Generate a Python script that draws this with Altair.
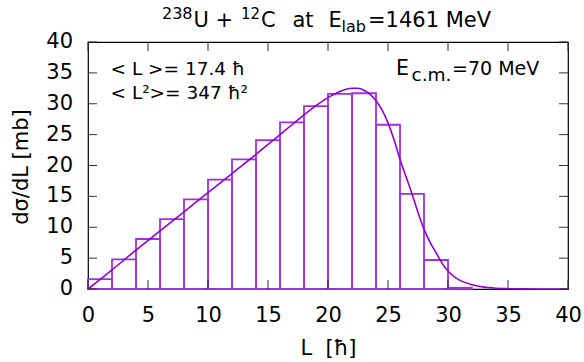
import altair as alt
import pandas as pd

# ---- data ----
bin_left = [0, 2, 4, 6, 8, 10, 12, 14, 16, 18, 20, 22, 24, 26, 28, 30]
bin_right = [2, 4, 6, 8, 10, 12, 14, 16, 18, 20, 22, 24, 26, 28, 30, 32]
bin_height = [1.6, 4.8, 8.1, 11.3, 14.5, 17.7, 21.0, 24.1, 27.0, 29.6,
              31.6, 31.7, 26.6, 15.4, 4.7, 0.2]

curve_L = [0, 2, 4, 6, 8, 10, 12, 14, 16, 17, 18, 19, 20, 21, 22, 22.5, 23,
           24, 24.5, 25, 25.5, 26, 26.5, 27, 27.5, 28, 28.5, 29, 29.5, 30,
           30.5, 31, 32, 33, 34, 35, 36, 38, 40]
curve_sig = [0, 3.1, 6.3, 9.4, 12.5, 15.6, 18.7, 21.8, 25.0, 26.6, 28.2, 29.7,
             31.0, 32.0, 32.5, 32.5, 32.2, 30.5, 29.0, 26.9, 24.2, 21.0, 18.2,
             15.4, 12.4, 9.7, 7.6, 5.9, 4.2, 2.9, 2.0, 1.4, 0.7, 0.3, 0.12,
             0.05, 0.02, 0.0, 0.0]

x_ticks = [0, 5, 10, 15, 20, 25, 30, 35, 40]
y_ticks = [0, 5, 10, 15, 20, 25, 30, 35, 40]

W, H = 480, 247
FONT = "DejaVu Sans"
PURPLE = "#9400D3"
BARC = "#A030E0"

bars = pd.DataFrame({"L0": bin_left, "L1": bin_right, "h": bin_height})
curve = pd.DataFrame({"L": curve_L, "s": curve_sig})
xt = pd.DataFrame({"v": x_ticks})
yt = pd.DataFrame({"v": y_ticks, "lab": [str(v) for v in y_ticks]})

xscale = alt.Scale(domain=[0, 40], nice=False, zero=False)
yscale = alt.Scale(domain=[0, 40], nice=False, zero=False)

xaxis = alt.Axis(values=x_ticks, ticks=False, tickSize=0, domain=False, grid=False,
                 labelFont=FONT, labelFontSize=21, labelColor="black",
                 labelPadding=15, labelFlush=False, labelOverlap=False,
                 title="L\u00a0\u00a0[ħ]", titleFont=FONT, titleFontSize=21,
                 titleFontWeight="normal", titleColor="black", titlePadding=12)

bar_layer = alt.Chart(bars).mark_rect(fill="transparent", stroke=BARC, strokeWidth=1.8).encode(
    x=alt.X("L0:Q", scale=xscale, axis=xaxis),
    x2="L1:Q",
    y=alt.Y("h:Q", scale=yscale, axis=None),
    y2=alt.datum(0),
)

line_layer = alt.Chart(curve).mark_line(color=PURPLE, strokeWidth=1.6, interpolate="monotone").encode(
    x=alt.X("L:Q", scale=xscale),
    y=alt.Y("s:Q", scale=yscale, axis=None),
)

TL = 9
tick_col = "#333333"
xb = alt.Chart(xt).mark_rule(color=tick_col, strokeWidth=1).encode(
    x=alt.X("v:Q", scale=xscale), y=alt.value(H), y2=alt.value(H - TL))
xtop = alt.Chart(xt).mark_rule(color=tick_col, strokeWidth=1).encode(
    x=alt.X("v:Q", scale=xscale), y=alt.value(0), y2=alt.value(TL))
yl = alt.Chart(yt).mark_rule(color=tick_col, strokeWidth=1).encode(
    y=alt.Y("v:Q", scale=yscale, axis=None), x=alt.value(0), x2=alt.value(TL))
yr = alt.Chart(yt).mark_rule(color=tick_col, strokeWidth=1).encode(
    y=alt.Y("v:Q", scale=yscale, axis=None), x=alt.value(W), x2=alt.value(W - TL))

# y tick labels (drawn as text so that every label shows)
ylabels = alt.Chart(yt).mark_text(font=FONT, fontSize=21, align="right",
                                  baseline="middle", color="black").encode(
    y=alt.Y("v:Q", scale=yscale, axis=None), x=alt.value(-15), text="lab:N")

OX, OY = 88, 42


def txt(s, x_abs, y_abs, size, angle=0, align="left", baseline="alphabetic"):
    return alt.Chart(pd.DataFrame({"t": [s]})).mark_text(
        font=FONT, fontSize=size, align=align, baseline=baseline, color="black", angle=angle
    ).encode(text="t:N", x=alt.value(x_abs - OX), y=alt.value(y_abs - OY))


F = 21
S = 16
texts = [
    txt("dσ/dL [mb]", 22, 167, 21, angle=270, align="center", baseline="middle"),
    txt("238", 162, 18.5, S),
    txt("U\u00a0+", 193.5, 27, F),
    txt("12", 241, 18.5, 15),
    txt("C", 261, 27, F),
    txt("at", 292.5, 27, F),
    txt("E", 328.5, 27, F),
    txt("lab", 341.5, 32, S),
    txt("=1461\u00a0MeV", 368, 27, F),
    txt("<\u00a0L\u00a0>=\u00a017.4\u00a0ħ", 110.5, 75, 18.5),
    txt("<\u00a0L²>=\u00a0347\u00a0ħ²", 110.5, 99, 18.5),
    txt("E", 396, 75, 20.5),
    txt("c.m.", 411.5, 80.5, 18.5),
    txt("=70\u00a0MeV", 452, 75, 19),
]

chart = alt.layer(bar_layer, line_layer, xb, xtop, yl, yr, ylabels, *texts).properties(
    width=W, height=H,
    autosize=alt.AutoSizeParams(type="none"),
    padding={"left": OX, "top": OY, "right": 584 - OX - W, "bottom": 362 - OY - H},
).configure(
    background="white",
    view=alt.ViewConfig(stroke="black", strokeWidth=1.2),
)

chart.save("out.html", embed_options={"renderer": "svg", "actions": False})
